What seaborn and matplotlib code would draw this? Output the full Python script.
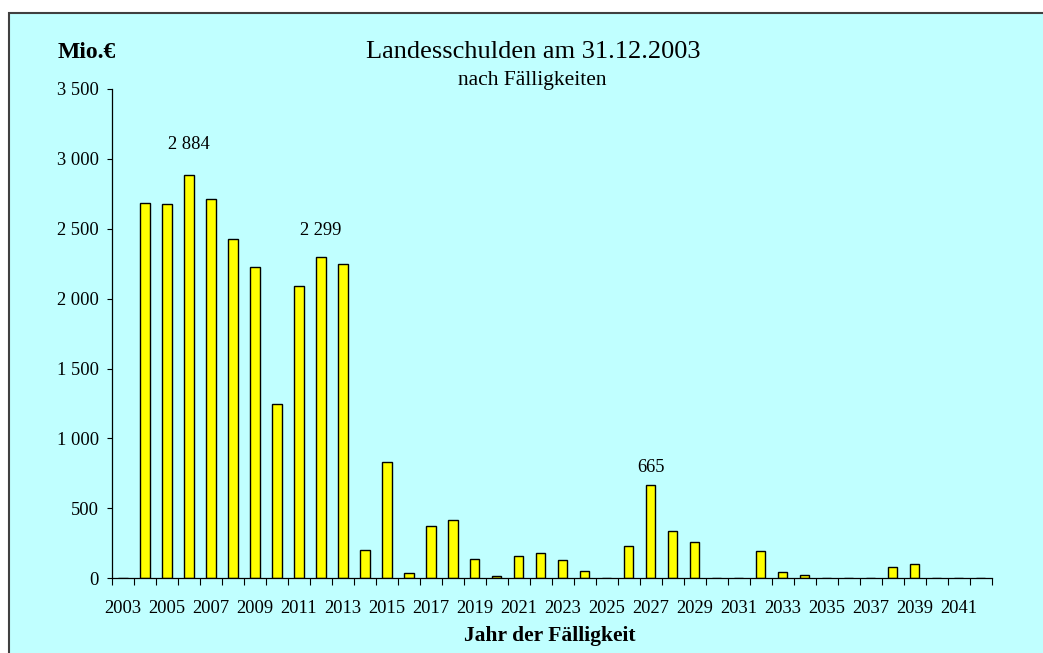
import seaborn as sns
import matplotlib.pyplot as plt
import matplotlib.ticker as mticker
from matplotlib.patches import Rectangle
import pandas as pd

# Landesschulden nach Jahr der Fälligkeit (Mio. €)
years = list(range(2003, 2043))
values = [0, 2683, 2678, 2884, 2714, 2426, 2226, 1250, 2093, 2299,
          2247, 204, 833, 40, 371, 416, 137, 14, 157, 181,
          131, 52, 0, 228, 665, 338, 257, 0, 0, 195,
          48, 24, 0, 0, 0, 78, 105, 0, 0, 0]
labelled_years = [2006, 2012, 2027]
label_offsets = [22, 19, 13]  # points above bar top

df = pd.DataFrame({'year': [str(y) for y in years], 'value': values})

sns.set_style('white')
plt.rcParams['font.family'] = ['Liberation Serif', 'DejaVu Serif']
plt.rcParams['text.color'] = 'black'
plt.rcParams['xtick.color'] = 'black'
plt.rcParams['ytick.color'] = 'black'

fig = plt.figure(figsize=(10.43, 6.53), dpi=100)
fig.patch.set_facecolor('white')
bg = Rectangle((8.5 / 1043, -0.01), 1.0, 1 - 12.5 / 653 + 0.01,
               transform=fig.transFigure, facecolor='#C0FFFF',
               edgecolor='#404040', linewidth=1.5, zorder=-5)
fig.add_artist(bg)

ax = fig.add_axes([112 / 1043, 1 - 578.3 / 653, (991.7 - 112) / 1043, (578.3 - 89) / 653])
ax.set_zorder(2)
ax.set_facecolor('none')

sns.barplot(data=df, x='year', y='value', color='#FFFF00', edgecolor='black',
            linewidth=1.0, width=0.42, saturation=1, ax=ax)

ax.set_xlim(-0.5, len(years) - 0.5)
ax.set_ylim(0, 3500)
ax.yaxis.set_major_locator(mticker.MultipleLocator(500))
ax.yaxis.set_major_formatter(mticker.FuncFormatter(lambda v, p: f"{int(v):,}".replace(',', ' ')))

# ticks on category boundaries, labels every second year
ax.set_xticks([i - 0.5 for i in range(len(years) + 1)])
ax.set_xticklabels([])
ax.set_xticks(list(range(0, len(years), 2)), minor=True)
ax.set_xticklabels([str(years[i]) for i in range(0, len(years), 2)], minor=True)
ax.tick_params(axis='x', which='major', bottom=True, direction='out', length=4.8, width=0.8, color='black')
ax.tick_params(axis='x', which='minor', bottom=True, length=0, pad=15.5, labelsize=13.3)
ax.tick_params(axis='y', left=True, direction='out', length=3.8, width=0.8, color='black', pad=5.5, labelsize=13.3)

for s in ['top', 'right']:
    ax.spines[s].set_visible(False)
for s in ['left', 'bottom']:
    ax.spines[s].set_color('black')
    ax.spines[s].set_linewidth(0.9)

ax.set_xlabel('')
ax.set_ylabel('')

for yr, off in zip(labelled_years, label_offsets):
    i = years.index(yr)
    v = values[i]
    ax.annotate(f"{v:,}".replace(',', ' '), xy=(i, v), xytext=(0, off),
                textcoords='offset points', ha='center', va='center', fontsize=13.3)

fig.text(533 / 1043, 1 - 52 / 653, 'Landesschulden am 31.12.2003', ha='center', va='center', fontsize=19)
fig.text(532 / 1043, 1 - 80 / 653, 'nach Fälligkeiten', ha='center', va='center', fontsize=15.5)
fig.text(87 / 1043, 1 - 52 / 653, 'Mio.€', ha='center', va='center', fontsize=17, fontweight='bold')
fig.text(550 / 1043, 1 - 636 / 653, 'Jahr der Fälligkeit', ha='center', va='center', fontsize=15.5, fontweight='bold')

fig.savefig('out.png', dpi=100)
